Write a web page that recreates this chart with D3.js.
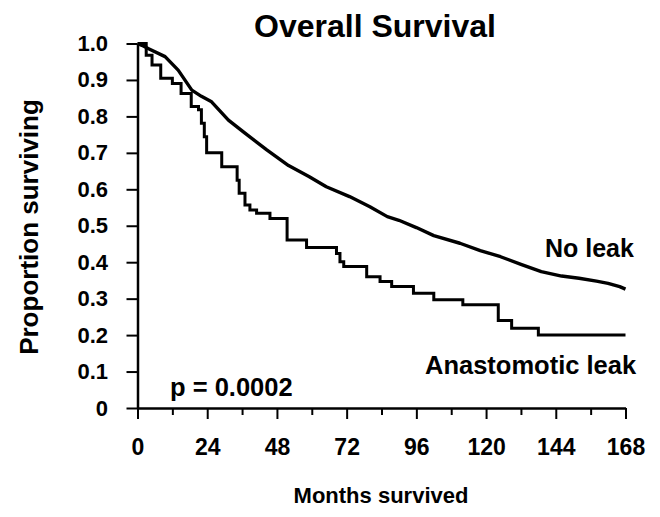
<!DOCTYPE html>
<html><head><meta charset="utf-8">
<script src="https://cdn.jsdelivr.net/npm/d3@7"></script>
<style>body{margin:0;background:#fff}svg{display:block}text{font-family:"Liberation Sans",Arial,sans-serif;font-weight:bold;fill:#000}</style>
</head><body><svg id="c" width="660" height="517"></svg>
<script>
const xTicks=[0,24,48,72,96,120,144,168];
const xMinor=[12,36,60,84,108,132,156];
const yTicks=[0,0.1,0.2,0.3,0.4,0.5,0.6,0.7,0.8,0.9,1.0];
const yTickLabels=["0","0.1","0.2","0.3","0.4","0.5","0.6","0.7","0.8","0.9","1.0"];
const noLeakMonths=[0,1.5,4,9.5,14,18.7,22,25.5,31.3,37,44.5,52,59,65,73,80,86,90,96,102,111,118,125,132,139,146,152,158,162,166,168];
const noLeakSurv=[1,0.995,0.985,0.964,0.927,0.872,0.855,0.84,0.79,0.754,0.708,0.665,0.635,0.607,0.58,0.552,0.525,0.515,0.495,0.473,0.452,0.432,0.415,0.394,0.374,0.362,0.356,0.348,0.342,0.333,0.326];
const leakMonths=[0,3,5,8,12,15,18.5,21,22,23,23.8,29,34.3,35,37,38.7,41,45.6,51.5,58.2,68.5,69.7,71,78.9,83.5,87.5,95,102,112,124.2,128.8,138,168];
const leakSurv=[1,0.968,0.941,0.905,0.89,0.863,0.827,0.818,0.781,0.744,0.70,0.662,0.625,0.589,0.557,0.543,0.534,0.52,0.461,0.44,0.424,0.401,0.388,0.36,0.347,0.333,0.315,0.297,0.283,0.24,0.219,0.2,0.2];

const svg=d3.select("#c");
const x=d3.scaleLinear().domain([0,168]).range([137.5,625.5]);
const y=d3.scaleLinear().domain([0,1]).range([408,43.5]);

const xa=svg.append("g").attr("transform","translate(0,408)")
  .call(d3.axisBottom(x).tickValues(xTicks).tickSize(11).tickSizeOuter(0).tickFormat(d3.format("d")));
const xm=svg.append("g").attr("transform","translate(0,408)")
  .call(d3.axisBottom(x).tickValues(xMinor).tickSize(7).tickSizeOuter(0).tickFormat(""));
xm.select(".domain").remove();
const ya=svg.append("g").attr("transform","translate(137.5,0)")
  .call(d3.axisLeft(y).tickValues(yTicks).tickSize(11).tickSizeOuter(0).tickFormat((d,i)=>yTickLabels[i]));
svg.selectAll(".domain").attr("stroke","#000").attr("stroke-width",2.5);
svg.selectAll(".tick line").attr("stroke","#000").attr("stroke-width",2);
xa.selectAll(".tick text").attr("font-size",23).attr("font-family","Liberation Sans, Arial, sans-serif").attr("font-weight","bold").attr("dy","1.45em");
ya.selectAll(".tick text").attr("font-size",22).attr("font-family","Liberation Sans, Arial, sans-serif").attr("font-weight","bold").attr("dx","-0.7em");

const noLeak=noLeakMonths.map((m,i)=>[m,noLeakSurv[i]]);
const leak=leakMonths.map((m,i)=>[m,leakSurv[i]]);
svg.append("path").datum(noLeak).attr("fill","none").attr("stroke","#000").attr("stroke-width",3.4).attr("stroke-linejoin","round")
  .attr("d",d3.line().x(d=>x(d[0])).y(d=>y(d[1])));
svg.append("path").datum(leak).attr("fill","none").attr("stroke","#000").attr("stroke-width",3)
  .attr("d",d3.line().x(d=>x(d[0])).y(d=>y(d[1])).curve(d3.curveStepAfter));

svg.append("text").attr("x",375).attr("y",37).attr("text-anchor","middle").attr("font-size",32).text("Overall Survival");
svg.append("text").attr("transform","translate(38,227) rotate(-90)").attr("text-anchor","middle").attr("font-size",26).text("Proportion surviving");
svg.append("text").attr("x",381).attr("y",503).attr("text-anchor","middle").attr("font-size",22).text("Months survived");
svg.append("text").attr("x",545).attr("y",257).attr("font-size",25).text("No leak");
svg.append("text").attr("x",425).attr("y",374).attr("font-size",25.5).text("Anastomotic leak");
svg.append("text").attr("x",170).attr("y",396).attr("font-size",25.5).text("p = 0.0002");
</script></body></html>
